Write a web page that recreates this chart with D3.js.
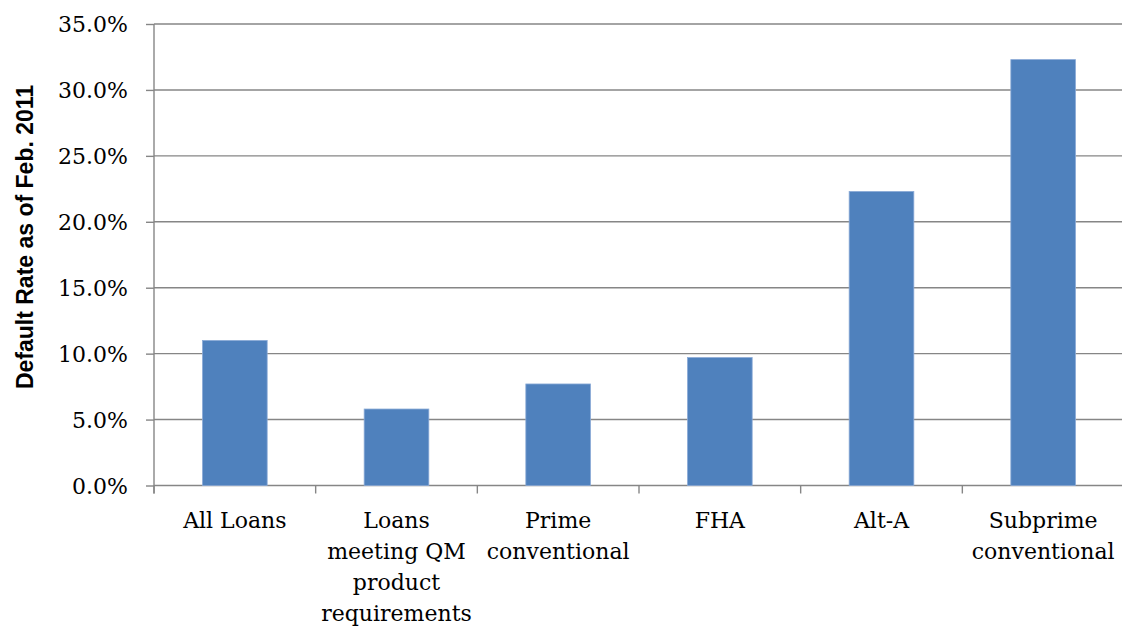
<!DOCTYPE html>
<html>
<head>
<meta charset="utf-8">
<script src="https://cdn.jsdelivr.net/npm/d3@7"></script>
<style>
  body { margin: 0; background: #fff; }
  svg { display: block; }
</style>
</head>
<body>
<div id="chart"></div>
<script>
// category labels, already split the way the original wraps them
const categories = ["All Loans", "QM", "Prime", "FHA", "Alt-A", "Subprime"];
const labelLines = [
    ["All Loans"],
    ["Loans", "meeting QM", "product", "requirements"],
    ["Prime", "conventional"],
    ["FHA"],
    ["Alt-A"],
    ["Subprime", "conventional"]
];
const defaultRate = [0.110, 0.058, 0.077, 0.097, 0.223, 0.323];
const yTicks = [0, 0.05, 0.10, 0.15, 0.20, 0.25, 0.30, 0.35];

const width = 1122;
const height = 627;
const margin = {top: 24, right: -2, bottom: 141.5, left: 154};

const svg = d3.select("#chart")
    .append("svg")
    .attr("width", width)
    .attr("height", height);

const x = d3.scaleBand()
    .domain(categories)
    .range([margin.left, width - margin.right])
    .paddingInner(0.6)
    .paddingOuter(0.3);

const y = d3.scaleLinear()
    .domain([0, 0.35])
    .range([height - margin.bottom, margin.top]);

const gridColor = "#868686";
const serif = "'DejaVu Serif', serif";

// horizontal gridlines
svg.append("g")
    .selectAll("line")
    .data(yTicks)
    .join("line")
    .attr("x1", margin.left)
    .attr("x2", width)
    .attr("y1", d => y(d))
    .attr("y2", d => y(d))
    .attr("stroke", gridColor)
    .attr("stroke-width", 1.4);

// bars
svg.append("g")
    .selectAll("rect")
    .data(defaultRate)
    .join("rect")
    .attr("x", (d, i) => x(categories[i]))
    .attr("width", x.bandwidth())
    .attr("y", d => y(d))
    .attr("height", d => y(0) - y(d))
    .attr("fill", "#4F81BD")
    .attr("stroke", "#8AAAD6")
    .attr("stroke-width", 0.8);

// y axis
const yAxis = svg.append("g")
    .attr("transform", `translate(${margin.left},0)`)
    .call(d3.axisLeft(y)
        .tickValues(yTicks)
        .tickFormat(d3.format(".1%"))
        .tickSizeInner(8)
        .tickSizeOuter(0)
        .tickPadding(18));

yAxis.select(".domain")
    .attr("d", `M0,${margin.top}V${y(0) + 8}`)
    .attr("stroke", gridColor)
    .attr("stroke-width", 1.4);
yAxis.selectAll(".tick line")
    .attr("stroke", gridColor)
    .attr("stroke-width", 1.4);
yAxis.selectAll(".tick text")
    .attr("font-family", serif)
    .attr("font-size", 22)
    .attr("fill", "#000")
    .attr("dy", "0.36em");

// category boundary ticks on the x axis
const step = x.step();
const bounds = categories.map(c => x(c) - step * x.paddingInner() / 2);
bounds.push(bounds[bounds.length - 1] + step);

svg.append("g")
    .selectAll("line")
    .data(bounds)
    .join("line")
    .attr("x1", d => d)
    .attr("x2", d => d)
    .attr("y1", y(0))
    .attr("y2", y(0) + 8)
    .attr("stroke", gridColor)
    .attr("stroke-width", 1.4);

// category labels
const labels = svg.append("g")
    .selectAll("text")
    .data(categories)
    .join("text")
    .attr("x", d => x(d) + x.bandwidth() / 2)
    .attr("y", y(0) + 42)
    .attr("text-anchor", "middle")
    .attr("font-family", serif)
    .attr("font-size", 22)
    .attr("fill", "#000");

labels.selectAll("tspan")
    .data((d, i) => labelLines[i])
    .join("tspan")
    .attr("x", function () { return this.parentNode.getAttribute("x"); })
    .attr("dy", (d, i) => i === 0 ? 0 : 31.2)
    .text(d => d);

// y axis title
svg.append("text")
    .attr("transform", `translate(33,237) rotate(-90)`)
    .attr("text-anchor", "middle")
    .attr("font-family", "'Liberation Sans', Arial, sans-serif")
    .attr("font-weight", "bold")
    .attr("font-size", 23)
    .attr("fill", "#000")
    .text("Default Rate as of Feb. 2011");
</script>
</body>
</html>
